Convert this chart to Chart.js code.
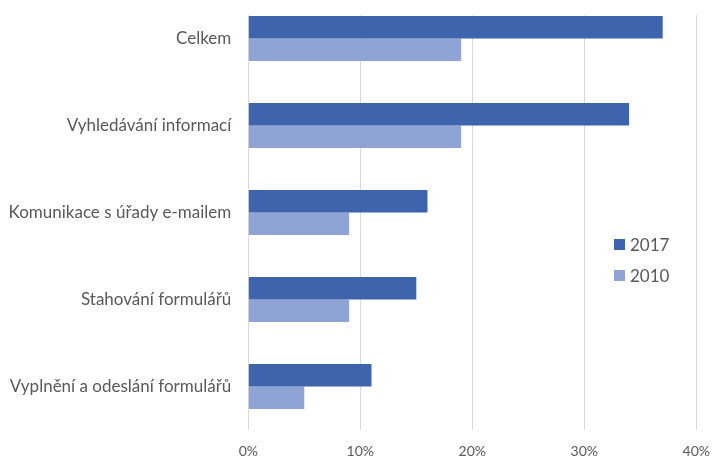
<!DOCTYPE html>
<html>
<head>
<meta charset="utf-8">
<script src="https://cdn.jsdelivr.net/npm/chart.js@4"></script>
<style>
  html, body { margin: 0; padding: 0; background: #fff; overflow: hidden; }
  #wrap { position: relative; width: 713px; height: 459px; overflow: hidden; }
  #c { position: absolute; left: 0; top: -5px; }
  #legend { position: absolute; left: 614px; top: 229px; font-family: Lato, sans-serif; font-size: 17px; color: #595959; }
  .item { display: flex; align-items: center; height: 31px; }
  .sw { width: 11px; height: 11px; margin-right: 5px; }
</style>
</head>
<body>
<div id="wrap">
  <canvas id="c" width="713" height="464"></canvas>
  <div id="legend"></div>
</div>
<script>
const categories = ["Celkem", "Vyhledávání informací", "Komunikace s úřady e-mailem", "Stahování formulářů", "Vyplnění a odeslání formulářů"];
const seriesNames = ["2017", "2010"];
const values2017 = [37, 34, 16, 15, 11];
const values2010 = [19, 19, 9, 9, 5];
const xTicks = [0, 10, 20, 30, 40];

const colors = ["#3d64ad", "#8fa4d5"];
const textColor = "#595959";
const font = "Lato";

// hides the top end of the vertical gridlines (they start a little below the top in the reference)
const topMask = {
  id: "topMask",
  beforeDatasetsDraw(chart) {
    const { ctx, chartArea } = chart;
    ctx.save();
    ctx.fillStyle = "#fff";
    ctx.fillRect(chartArea.left - 2, 0, chartArea.right - chartArea.left + 4, chartArea.top + 20);
    ctx.restore();
  }
};

const chart = new Chart(document.getElementById("c"), {
  type: "bar",
  data: {
    labels: categories,
    datasets: [
      { label: seriesNames[0], data: values2017, backgroundColor: colors[0] },
      { label: seriesNames[1], data: values2010, backgroundColor: colors[1] }
    ]
  },
  options: {
    indexAxis: "y",
    responsive: false,
    animation: false,
    devicePixelRatio: 1,
    layout: { padding: { top: 0, right: 16.7, left: 0, bottom: 0 } },
    datasets: { bar: { categoryPercentage: 0.517, barPercentage: 1 } },
    plugins: { legend: { display: false }, tooltip: { enabled: false } },
    scales: {
      x: {
        min: 0, max: 40,
        afterBuildTicks(s) { s.ticks = xTicks.map(v => ({ value: v })); },
        afterFit(s) { s.height = 29; s.paddingLeft = 0; s.paddingRight = 0; },
        grid: { color: "#d9d9d9", lineWidth: 1, drawTicks: false },
        border: { display: false },
        ticks: { padding: 13, color: textColor, font: { family: font, size: 14 }, callback: v => v + "%" }
      },
      y: {
        afterFit(s) { s.width = 248.3; s.paddingTop = 0; s.paddingBottom = 0; },
        grid: { display: false, drawTicks: false },
        border: { display: false },
        ticks: { padding: 17, color: textColor, font: { family: font, size: 17 } }
      }
    }
  },
  plugins: [topMask]
});

const legend = document.getElementById("legend");
chart.data.datasets.forEach(ds => {
  const it = document.createElement("div");
  it.className = "item";
  const sw = document.createElement("span");
  sw.className = "sw";
  sw.style.background = ds.backgroundColor;
  const t = document.createElement("span");
  t.textContent = ds.label;
  it.appendChild(sw); it.appendChild(t);
  legend.appendChild(it);
});
</script>
</body>
</html>
